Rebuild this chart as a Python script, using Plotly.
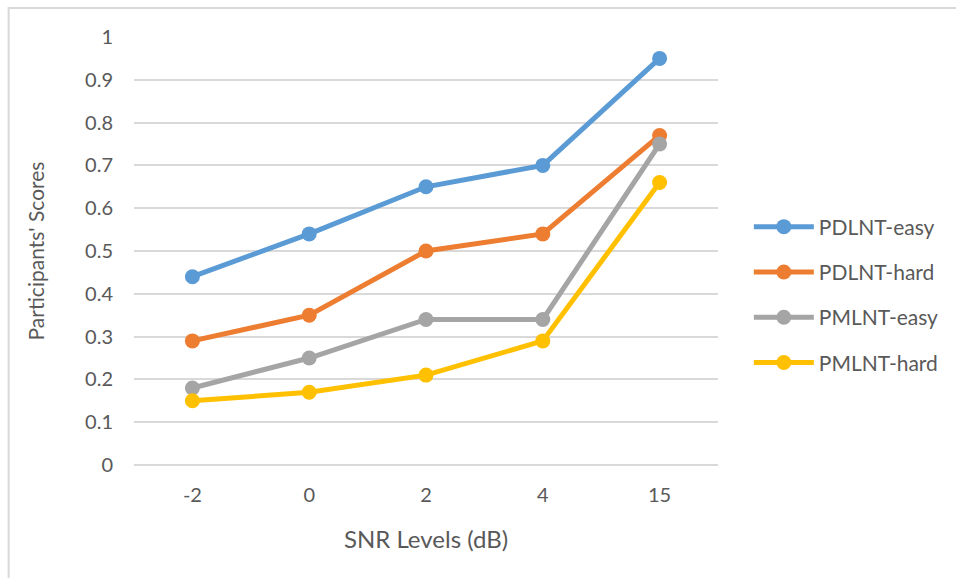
import plotly.graph_objects as go

# SNR levels (categorical axis) and mean participant scores per condition
snr_levels = ["-2", "0", "2", "4", "15"]
pdlnt_easy = [0.44, 0.54, 0.65, 0.70, 0.95]
pdlnt_hard = [0.29, 0.35, 0.50, 0.54, 0.77]
pmlnt_easy = [0.18, 0.25, 0.34, 0.34, 0.75]
pmlnt_hard = [0.15, 0.17, 0.21, 0.29, 0.66]

series_names = ["PDLNT-easy", "PDLNT-hard", "PMLNT-easy", "PMLNT-hard"]
series_values = [pdlnt_easy, pdlnt_hard, pmlnt_easy, pmlnt_hard]
series_colors = ["#5B9BD5", "#ED7D31", "#A5A5A5", "#FFC000"]

y_ticks = [0, 0.1, 0.2, 0.3, 0.4, 0.5, 0.6, 0.7, 0.8, 0.9, 1]
y_tick_labels = ["0", "0.1", "0.2", "0.3", "0.4", "0.5", "0.6", "0.7", "0.8", "0.9", "1"]

FONT = "Lato, 'Open Sans', sans-serif"
TEXT = "#595959"

fig = go.Figure()
for i, (name, vals, col) in enumerate(zip(series_names, series_values, series_colors)):
    fig.add_trace(go.Scatter(
        x=snr_levels, y=vals, name=name, mode="lines+markers",
        line=dict(color=col, width=5),
        marker=dict(color=col, size=15),
        legendgroup=f"g{i}",
    ))

W, H = 956, 578
ml, mr, mt, mb = 134, 235, 37, 113
pw, ph = W - ml - mr, H - mt - mb

# Outer chart frame (left and top edges visible in the page)
fig.add_shape(
    type="rect", xref="paper", yref="paper",
    x0=(8 - ml) / pw, x1=1 + (W + 10 - ml - pw) / pw,
    y0=-(H + 10 - mt - ph) / ph, y1=1 + (mt - 8) / ph,
    line=dict(color="#D9D9D9", width=2), fillcolor="rgba(0,0,0,0)", layer="below",
)

fig.update_layout(
    width=W, height=H,
    margin=dict(l=ml, r=mr, t=mt, b=mb),
    paper_bgcolor="white", plot_bgcolor="white",
    font=dict(family=FONT, color=TEXT, size=20),
    showlegend=True,
    legend=dict(
        x=(752 - ml) / pw, y=1 - (295 - mt) / ph, xanchor="left", yanchor="middle",
        font=dict(family=FONT, size=21, color=TEXT),
        tracegroupgap=15, itemwidth=60,
        bgcolor="rgba(0,0,0,0)",
    ),
    xaxis=dict(
        type="category", range=[-0.5, len(snr_levels) - 0.5], automargin=False,
        showgrid=False, zeroline=False, showline=False,
        ticks="", tickfont=dict(size=20), ticklabelstandoff=16,
        title=dict(text="SNR Levels (dB)", font=dict(size=24), standoff=26),
    ),
    yaxis=dict(
        range=[0, 1], tickvals=y_ticks, ticktext=y_tick_labels, automargin=False,
        showgrid=True, gridcolor="#D9D9D9", gridwidth=1.5,
        zeroline=True, zerolinecolor="#D9D9D9", zerolinewidth=1.5,
        showline=False, ticks="", tickfont=dict(size=20), ticklabelstandoff=20,
        title=dict(text="Participants' Scores", font=dict(size=21), standoff=34),
    ),
)

fig.write_html("out.html")
